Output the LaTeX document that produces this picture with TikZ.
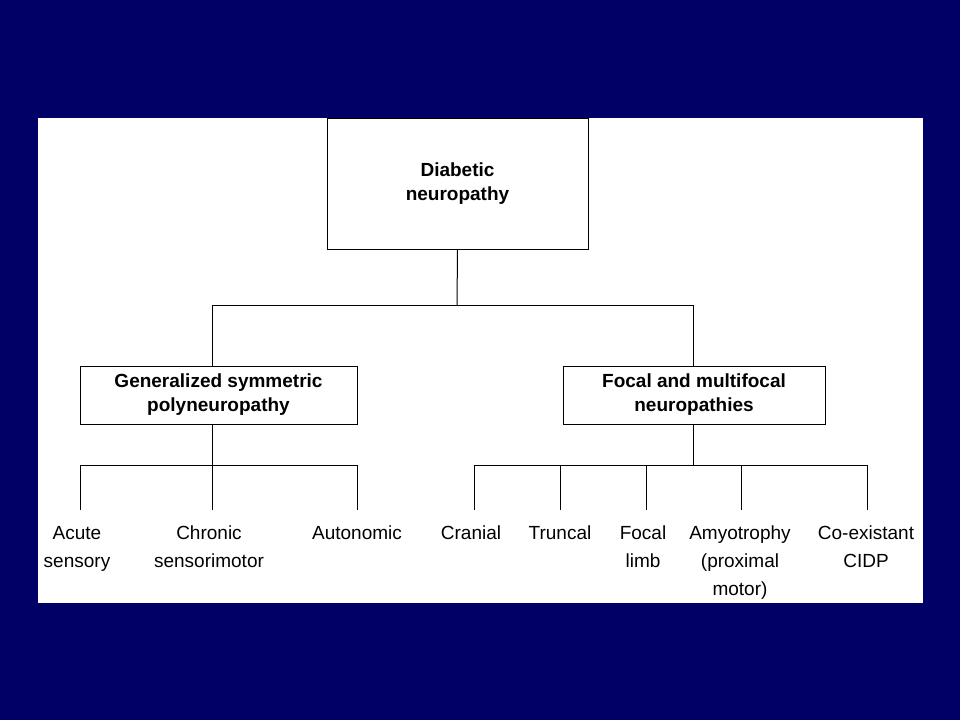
\documentclass[tikz,border=0pt]{standalone}
\usepackage{fontspec}
\setmainfont{Liberation Sans}
\definecolor{slidebg}{RGB}{0,0,102}
\begin{document}
\begin{tikzpicture}[x=1pt,y=-1pt,
    box/.style={draw, line width=1pt, inner sep=0pt, font=\fontsize{19}{24}\selectfont\bfseries, align=center},
    leaf/.style={anchor=north, font=\fontsize{19}{28}\selectfont, align=center, inner sep=0pt},
    link/.style={line width=1pt}]

    % background and panel
    \fill[slidebg] (0,0) rectangle (960,720);
    \fill[white] (38,118) rectangle (923,603);
    \useasboundingbox (0,0) rectangle (960,720);

    % boxes
    \node[box, minimum width=261pt, minimum height=131pt] (root) at (457.5,183.5) {Diabetic\\neuropathy};
    \node[box, minimum width=277pt, minimum height=58pt] (gen) at (218.5,395) {Generalized symmetric\\polyneuropathy};
    \node[box, minimum width=262pt, minimum height=58pt] (foc) at (694,395) {Focal and multifocal\\neuropathies};

    % junctions
    \coordinate (j0) at (457,305);
    \coordinate (jl) at (212,305);
    \coordinate (jr) at (693,305);
    \coordinate (gl) at (212,465);
    \coordinate (fr) at (693,465);

    \draw[link] (root.south) -- (j0);
    \draw[link] (jl) -- (jr);
    \draw[link] (jl) -- (jl |- gen.north);
    \draw[link] (jr) -- (jr |- foc.north);
    \draw[link] (gl |- gen.south) -- (gl);
    \draw[link] (fr |- foc.south) -- (fr);
    \draw[link] (80,465) -- (357,465);
    \draw[link] (474,465) -- (867,465);

    % leaves
    \foreach \x/\name/\txt in {
        80/acute/{Acute\\sensory},
        212/chronic/{Chronic\\sensorimotor},
        357/auto/{Autonomic},
        474/cran/{Cranial},
        560/trunc/{Truncal},
        646/limb/{Focal\\limb},
        741/amyo/{Amyotrophy\\(proximal\\motor)},
        867/cidp/{Co-existant\\CIDP}} {
        \coordinate (\name top) at (\x,465);
        \draw[link] (\name top) -- ++(0,45);
    }
    \node[leaf] (acute) at (77,526) {Acute\\sensory};
    \node[leaf] (chronic) at (209,526) {Chronic\\sensorimotor};
    \node[leaf] (auto) at (357,526) {Autonomic};
    \node[leaf] (cran) at (471,526) {Cranial};
    \node[leaf] (trunc) at (560,526) {Truncal};
    \node[leaf] (limb) at (643,526) {Focal\\limb};
    \node[leaf] (amyo) at (740,526) {Amyotrophy\\(proximal\\motor)};
    \node[leaf] (cidp) at (866,526) {Co-existant\\CIDP};

\end{tikzpicture}
\end{document}
